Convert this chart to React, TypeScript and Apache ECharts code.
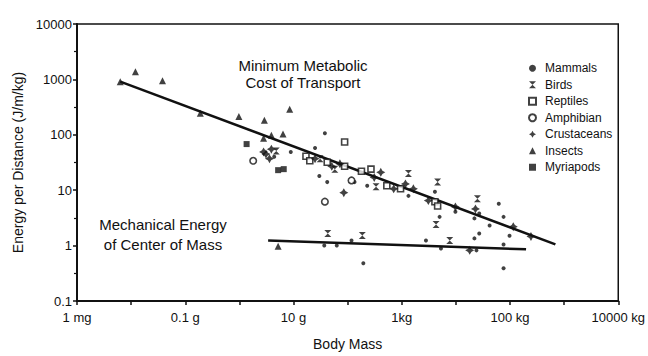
import React, { useEffect, useRef } from "react";
import * as echarts from "echarts";

// Body mass in grams, energy in J/m/kg
const massTickExponents = [-3, -1, 1, 3, 5, 7];
const massTickLabels = ["1 mg", "0.1 g", "10 g", "1kg", "100 kg", "10000 kg"];
const energyTickExponents = [-1, 0, 1, 2, 3, 4];
const energyTickLabels = ["0.1", "1", "10", "100", "1000", "10000"];

const mammals: [number, number][] = [
  [4.4, 40], [8.9, 49], [25, 58], [38, 107], [30, 18], [42, 14], [134, 14], [230, 12],
  [1330, 7.9], [4100, 9.4], [5000, 3.3], [9800, 4.1], [27000, 3.8], [22000, 3.1],
  [62000, 5.7], [76000, 3.3], [42000, 2.3], [98000, 1.5], [37, 1.0], [63, 1.0],
  [118, 1.24], [195, 0.48], [2800, 1.24], [5300, 0.89], [24000, 0.82], [22000, 1.35],
  [27000, 1.66], [76000, 1.05], [76000, 0.39],
];
const birds: [number, number][] = [
  [4.8, 51], [31, 37], [58, 24], [335, 11.5], [1330, 20], [4600, 14], [4300, 2.4],
  [25000, 7.0], [43, 1.66], [187, 1.52], [7700, 1.24],
];
const reptiles: [number, number][] = [
  [88, 74], [17, 41], [20, 34], [42, 32], [88, 27], [180, 22], [270, 24], [530, 12],
  [950, 10.6], [4100, 6.2], [4600, 5.2],
];
const amphibians: [number, number][] = [[1.8, 34], [38, 6.2], [118, 15]];
const crustaceans: [number, number][] = [
  [2.8, 49], [3.1, 45], [3.9, 55], [3.6, 37], [25, 37], [51, 27], [72, 30], [85, 9.0],
  [310, 17], [410, 21], [710, 10.6], [1170, 13], [1640, 10.6], [3100, 6.5], [9800, 5.0],
  [23000, 4.6], [115000, 2.2], [244000, 1.46], [18000, 0.82],
];
const insects: [number, number][] = [
  [0.0063, 910], [0.012, 1380], [0.038, 950], [0.19, 244], [0.98, 215], [2.9, 183],
  [8.5, 288], [3.9, 98], [2.8, 87], [6.4, 103], [5.2, 0.97],
];
const myriapods: [number, number][] = [[1.36, 68], [5.2, 23], [6.6, 24]];

const metabolicLine: [number, number][] = [[0.0063, 914], [690000, 1.05]];
const mechanicalLine: [number, number][] = [[3.4, 1.24], [198000, 0.855]];

const FONT = "Liberation Sans, Arial, Helvetica, sans-serif";
const INK = "#111";

const toLog = (arr: [number, number][]) =>
  arr.map(([m, e]) => [Math.log10(m), Math.log10(e)]);

const birdPath = "path://M0,0L10,0L5,5L10,10L0,10L5,5Z";
const crustPath = "path://M5,0L6.8,3.2L10,5L6.8,6.8L5,10L3.2,6.8L0,5L3.2,3.2Z";

export default function App() {
  const ref = useRef<HTMLDivElement>(null);
  useEffect(() => {
    if (!ref.current) return;
    const chart = echarts.init(ref.current, null, { renderer: "svg" });
    const hollow = { color: "#fff", borderColor: INK, borderWidth: 1.6 };
    const filled = { color: INK };
    const scatter = (name: string, data: [number, number][], symbol: string, size: number, itemStyle: any) => ({
      name,
      type: "scatter",
      data: toLog(data),
      symbol,
      symbolSize: size,
      itemStyle,
      z: 3,
    });
    chart.setOption({
      animation: false,
      backgroundColor: "#fff",
      textStyle: { fontFamily: FONT, color: INK },
      grid: { left: 77, right: 19, top: 24, bottom: 53, show: true, borderColor: INK, borderWidth: 1.5 },
      xAxis: {
        type: "value",
        min: -3,
        max: 7,
        interval: 1,
        name: "Body Mass",
        nameLocation: "middle",
        nameGap: 36,
        nameTextStyle: { fontSize: 14, color: INK, fontFamily: FONT },
        axisLine: { onZero: false, lineStyle: { color: INK, width: 2 } },
        axisTick: { length: 4, lineStyle: { color: INK, width: 1.5 } },
        splitLine: { show: false },
        axisLabel: {
          margin: 10,
          fontSize: 13,
          color: INK,
          fontFamily: FONT,
          formatter: (v: number) => {
            const i = massTickExponents.indexOf(Math.round(v));
            return i >= 0 ? massTickLabels[i] : "";
          },
        },
      },
      yAxis: {
        type: "value",
        min: -1,
        max: 4,
        interval: 1,
        name: "Energy per Distance (J/m/kg)",
        nameLocation: "middle",
        nameGap: 46,
        nameTextStyle: { fontSize: 14, color: INK, fontFamily: FONT },
        axisLine: { onZero: false, lineStyle: { color: INK, width: 2 } },
        axisTick: { length: 4, lineStyle: { color: INK, width: 1.5 } },
        minorTick: { show: true, splitNumber: 2, length: 3, lineStyle: { color: INK, width: 1.2 } },
        splitLine: { show: false },
        minorSplitLine: { show: false },
        axisLabel: {
          margin: 5,
          fontSize: 13,
          color: INK,
          fontFamily: FONT,
          formatter: (v: number) => {
            const i = energyTickExponents.indexOf(Math.round(v));
            return i >= 0 ? energyTickLabels[i] : "";
          },
        },
      },
      legend: {
        data: ["Mammals", "Birds", "Reptiles", "Amphibian", "Crustaceans", "Insects", "Myriapods"],
        orient: "vertical",
        left: 523,
        top: 55,
        itemWidth: 7,
        itemHeight: 7,
        itemGap: 0,
        textStyle: { fontSize: 12, lineHeight: 16.5, color: INK, fontFamily: FONT, padding: [0, 0, 0, 4] },
      },
      graphic: [
        {
          type: "text",
          x: 303,
          y: 57,
          style: {
            text: "Minimum Metabolic\nCost of Transport",
            fontSize: 15,
            lineHeight: 17,
            fontFamily: FONT,
            fill: INK,
            align: "center",
            verticalAlign: "top",
          },
        },
        {
          type: "text",
          x: 163,
          y: 214,
          style: {
            text: "Mechanical Energy\nof Center of Mass",
            fontSize: 15,
            lineHeight: 20,
            fontFamily: FONT,
            fill: INK,
            align: "center",
            verticalAlign: "top",
          },
        },
      ],
      series: [
        {
          name: "Metabolic cost fit",
          type: "line",
          data: toLog(metabolicLine),
          symbol: "none",
          lineStyle: { color: INK, width: 2.5 },
          z: 2,
        },
        {
          name: "Mechanical energy fit",
          type: "line",
          data: toLog(mechanicalLine),
          symbol: "none",
          lineStyle: { color: INK, width: 2.5 },
          z: 2,
        },
        scatter("Mammals", mammals, "circle", 4, filled),
        scatter("Birds", birds, birdPath, 7, filled),
        scatter("Reptiles", reptiles, "rect", 6, hollow),
        scatter("Amphibian", amphibians, "circle", 6.5, hollow),
        scatter("Crustaceans", crustaceans, crustPath, 9, filled),
        scatter("Insects", insects, "triangle", 7, filled),
        scatter("Myriapods", myriapods, "rect", 6, filled),
      ],
    });
    return () => chart.dispose();
  }, []);
  return (
    <div style={{ position: "fixed", left: 0, top: 0, width: 648, height: 356, background: "#fff" }}>
      <div ref={ref} style={{ width: 648, height: 356 }} />
    </div>
  );
}
